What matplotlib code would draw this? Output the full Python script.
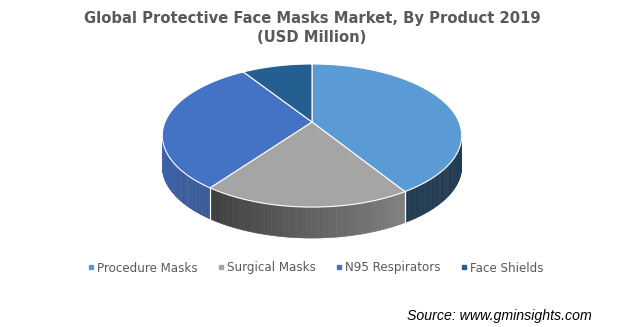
# 3D pie: protective face masks market by product
import numpy as np
import matplotlib.pyplot as plt
from matplotlib.patches import Polygon
from matplotlib.lines import Line2D
from matplotlib.colors import to_rgb

products = ["Procedure Masks", "Surgical Masks", "N95 Respirators", "Face Shields"]
share = [41.1, 18.9, 30.9, 9.1]  # % of 2019 market
top_colors = ["#5B9BD5", "#A5A5A5", "#4472C4", "#255E91"]
# side gradient (left colour, right colour)
side_colors = [("#243e55", "#213a50"), ("#808080", "#3d3d3d"),
               ("#385894", "#3f63ae"), ("#1c4670", "#1c4670")]

# perspective geometry (pixels)
cx, cy = 312, 122
rx, ry, k, depth = 147, 69, 0.189, 31


def proj(phi, dz=0.0):
    phi = np.radians(phi)
    u, v = np.cos(phi), np.sin(phi)
    w = 1 + k * v
    return cx + rx * u / w, cy - ry * v / w + dz


fig = plt.figure(figsize=(6.24, 3.27), dpi=100)
ax = fig.add_axes([0, 0, 1, 1])
ax.set_xlim(0, 624)
ax.set_ylim(327, 0)
ax.axis("off")

total = sum(share)
cum = np.concatenate([[0], np.cumsum(share)]) / total * 360
starts = 90 - cum[:-1]   # clockwise from 12 o'clock
ends = 90 - cum[1:]

vis_lo, vis_hi = -180 + np.degrees(np.arcsin(k)), -np.degrees(np.arcsin(k))

# side walls
for i in range(len(share)):
    for off in (0, 360, -360):
        lo = max(ends[i] + off, vis_lo)
        hi = min(starts[i] + off, vis_hi)
        if lo >= hi:
            continue
        c0, c1 = np.array(to_rgb(side_colors[i][0])), np.array(to_rgb(side_colors[i][1]))
        edges = np.linspace(hi, lo, 60)  # left-to-right on screen
        for j in range(len(edges) - 1):
            a, b = edges[j], edges[j + 1]
            ph = np.linspace(a, b, 4)
            xt, yt = proj(ph)
            xb, yb = proj(ph[::-1], depth)
            col = c0 + (c1 - c0) * (j / (len(edges) - 2))
            ax.add_patch(Polygon(np.column_stack([np.r_[xt, xb], np.r_[yt, yb]]),
                                 closed=True, facecolor=col, edgecolor=col, lw=0.4))
        # white separators on the wall
        for p in (lo, hi):
            if vis_lo < p < vis_hi:
                x0, y0 = proj(p)
                x1, y1 = proj(p, depth)
                ax.plot([x0, x1], [y0, y1], color="white", lw=0.8)

# top faces
for i in range(len(share)):
    ph = np.linspace(starts[i], ends[i], 120)
    xs, ys = proj(ph)
    pts = np.column_stack([np.r_[cx, xs], np.r_[cy, ys]])
    ax.add_patch(Polygon(pts, closed=True, facecolor=top_colors[i],
                         edgecolor="white", lw=0.8))

ax.text(312, 19, "Global Protective Face Masks Market, By Product 2019",
        ha="center", va="center", fontsize=10.6, fontweight="bold", color="#595959")
ax.text(312, 38, "(USD Million)", ha="center", va="center",
        fontsize=10.6, fontweight="bold", color="#595959")

handles = [Line2D([], [], marker="s", linestyle="none", markersize=3.2, color=c)
           for c in top_colors]
ax.legend(handles, products, loc="center", bbox_to_anchor=(316 / 624, 1 - 268 / 327),
          ncol=4, frameon=False, fontsize=8.6, handletextpad=0.25, handlelength=0.5,
          columnspacing=1.7, labelcolor="#595959")

ax.text(592, 316, "Source: www.gminsights.com", ha="right", va="center",
        style="italic", fontsize=10.2, family="Liberation Sans", color="black")

fig.savefig("out.png", dpi=100)
